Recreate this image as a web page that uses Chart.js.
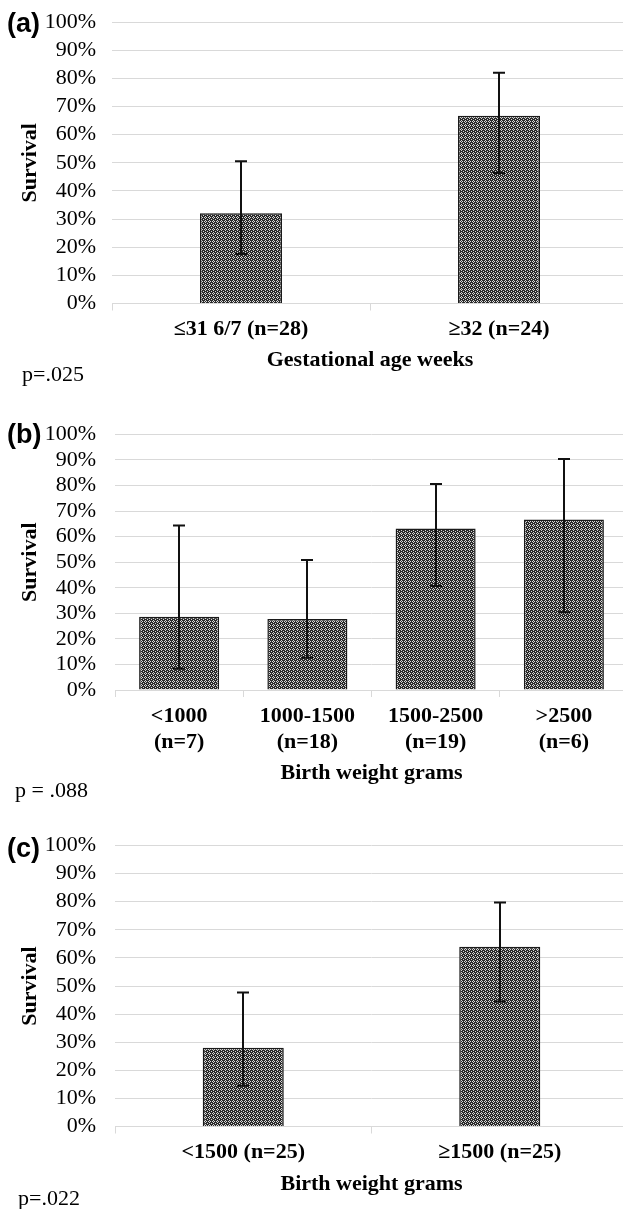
<!DOCTYPE html>
<html lang="en">
<head>
<meta charset="UTF-8">
<title>Survival by gestational age and birth weight</title>
<script src="https://cdn.jsdelivr.net/npm/chart.js"></script>
<style>
  html, body { margin: 0; padding: 0; background: #fff; overflow: hidden; }
  body { width: 623px; height: 1209px; position: relative; }
  canvas { position: absolute; left: 0; }
  .panel {
    position: absolute;
    font-family: 'Liberation Sans', Arial, sans-serif;
    font-weight: bold;
    font-size: 27px;
    line-height: 27px;
    color: #000;
  }
  .pval {
    position: absolute;
    font-family: 'Liberation Serif', 'Times New Roman', serif;
    font-size: 22px;
    line-height: 22px;
    color: #000;
    white-space: pre;
  }
</style>
</head>
<body>
  <canvas id="chartA" width="630" height="374" style="top:0px"></canvas>
  <canvas id="chartB" width="630" height="387" style="top:400px"></canvas>
  <canvas id="chartC" width="630" height="398" style="top:800px"></canvas>

  <div class="panel" style="left:7px; top:10px">(a)</div>
  <div class="panel" style="left:7px; top:421px">(b)</div>
  <div class="panel" style="left:7px; top:835px">(c)</div>

  <div class="pval" style="left:22px; top:363px">p=.025</div>
  <div class="pval" style="left:15px; top:779px">p = .088</div>
  <div class="pval" style="left:18px; top:1187px">p=.022</div>

<script>
// (a) gestational age
var gaLabels = ['\u226431 6/7 (n=28)', '\u226532 (n=24)'];
var gaSurvival = [32.1, 66.7];
var gaLower = [17.6, 46.4];
var gaUpper = [50.5, 82.0];

// (b) birth weight, four groups
var bwLabels = [['<1000', '(n=7)'], ['1000-1500', '(n=18)'], ['1500-2500', '(n=19)'], ['>2500', '(n=6)']];
var bwSurvival = [28.6, 27.8, 63.2, 66.7];
var bwLower = [8.3, 12.6, 40.7, 30.4];
var bwUpper = [64.3, 50.8, 80.6, 90.3];

// (c) birth weight, two groups
var bw2Labels = ['<1500 (n=25)', '\u22651500 (n=25)'];
var bw2Survival = [28.0, 64.0];
var bw2Lower = [14.5, 44.5];
var bw2Upper = [47.7, 79.7];

var yTicks = [0, 10, 20, 30, 40, 50, 60, 70, 80, 90, 100];

var serif = "'Liberation Serif', 'Times New Roman', serif";
var gridColor = '#d9d9d9';

// dotted dark fill like the printed bars
function barPattern() {
    var c = document.createElement('canvas');
    c.width = 4;
    c.height = 4;
    var g = c.getContext('2d');
    g.fillStyle = '#2a2a2a';
    g.fillRect(0, 0, 4, 4);
    g.fillStyle = '#d8d8d8';
    [[1, 0], [0, 1], [2, 1], [1, 2], [3, 3]].forEach(function(p) {
        g.fillRect(p[0], p[1], 1, 1);
    });
    return g.createPattern(c, 'repeat');
}

var errorBars = {
    id: 'errorBars',
    afterDatasetsDraw: function(chart, args, opts) {
        var ctx = chart.ctx;
        var xs = chart.scales.x, ys = chart.scales.y;
        ctx.save();
        ctx.strokeStyle = '#111';
        ctx.lineWidth = 2;
        opts.lower.forEach(function(lo, i) {
            var px = Math.round(xs.getPixelForValue(i));
            var top = ys.getPixelForValue(opts.upper[i]);
            var bot = ys.getPixelForValue(lo);
            ctx.beginPath();
            ctx.moveTo(px, top);
            ctx.lineTo(px, bot);
            ctx.moveTo(px - 6, top);
            ctx.lineTo(px + 6, top);
            ctx.moveTo(px - 6, bot);
            ctx.lineTo(px + 6, bot);
            ctx.stroke();
        });
        ctx.restore();
    }
};

function makeChart(id, labels, values, lower, upper, cfg) {
    var ctx = document.getElementById(id).getContext('2d');
    return new Chart(ctx, {
        type: 'bar',
        data: {
            labels: labels,
            datasets: [{
                data: values,
                backgroundColor: barPattern(),
                borderColor: '#1a1a1a',
                borderWidth: 1.5,
                categoryPercentage: 1,
                barPercentage: cfg.barPct
            }]
        },
        plugins: [errorBars],
        options: {
            responsive: false,
            animation: false,
            layout: { padding: { top: cfg.padTop, left: 0, right: 2, bottom: 0 } },
            plugins: {
                legend: { display: false },
                tooltip: { enabled: false },
                errorBars: { lower: lower, upper: upper }
            },
            scales: {
                x: {
                    afterFit: function(scale) { scale.height = cfg.xHeight; },
                    grid: {
                        drawOnChartArea: false,
                        drawTicks: true,
                        tickLength: 7,
                        color: gridColor
                    },
                    border: { display: true, color: gridColor },
                    ticks: {
                        autoSkip: false,
                        maxRotation: 0,
                        padding: 6,
                        color: '#000',
                        font: { family: serif, size: 22, weight: 'bold' }
                    },
                    title: {
                        display: true,
                        text: cfg.xTitle,
                        color: '#000',
                        padding: 0,
                        font: { family: serif, size: 22, weight: 'bold' }
                    }
                },
                y: {
                    min: 0,
                    max: 100,
                    afterFit: function(scale) {
                        scale.width = cfg.yWidth;
                        // keep the plot top where the layout padding puts it
                        scale.paddingTop = 0;
                        scale.paddingBottom = 0;
                    },
                    afterBuildTicks: function(scale) {
                        scale.ticks = yTicks.map(function(v) { return { value: v }; });
                    },
                    grid: { color: gridColor, drawTicks: false },
                    border: { display: false },
                    ticks: {
                        autoSkip: false,
                        padding: cfg.yPad,
                        color: '#000',
                        font: { family: serif, size: 22 },
                        callback: function(v) { return v + '%'; }
                    },
                    title: {
                        display: true,
                        text: 'Survival',
                        color: '#000',
                        padding: { top: 17, bottom: 0 },
                        font: { family: serif, size: 22, weight: 'bold' }
                    }
                }
            }
        }
    });
}

makeChart('chartA', gaLabels, gaSurvival, gaLower, gaUpper,
    { padTop: 22, xHeight: 70.5, yWidth: 112, yPad: 16, barPct: 0.318, xTitle: 'Gestational age weeks' });
makeChart('chartB', bwLabels, bwSurvival, bwLower, bwUpper,
    { padTop: 34.3, xHeight: 97, yWidth: 115, yPad: 19, barPct: 0.624, xTitle: 'Birth weight grams' });
makeChart('chartC', bw2Labels, bw2Survival, bw2Lower, bw2Upper,
    { padTop: 45.5, xHeight: 71.5, yWidth: 115, yPad: 19, barPct: 0.316, xTitle: 'Birth weight grams' });
</script>
</body>
</html>
